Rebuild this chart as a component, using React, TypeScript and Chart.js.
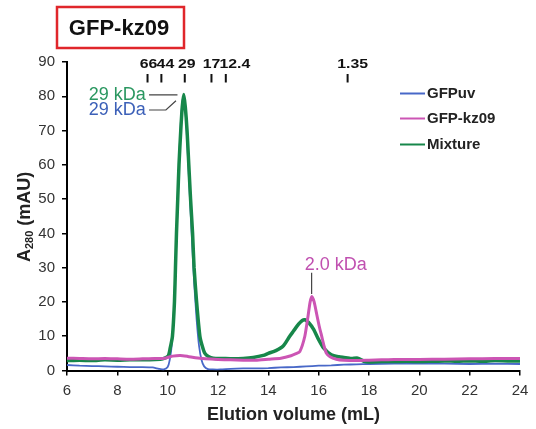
import React, { useEffect, useRef } from "react";
import { Chart, registerables } from "chart.js";

Chart.register(...registerables);

const FONT = "'Liberation Sans', Arial, Helvetica, sans-serif";

// Elution volume (mL) / A280 (mAU)
const uvX = [6, 6.5, 7, 7.5, 8, 8.5, 9, 9.4, 9.65, 9.85, 10.0, 10.08, 10.17, 10.25, 10.31, 10.38, 10.45, 10.52, 10.6, 10.66, 10.74, 10.82, 10.9, 10.98, 11.05, 11.15, 11.25, 11.35, 11.45, 11.6, 11.8, 12.1, 12.5, 13, 13.5, 14, 14.5, 15, 15.5, 16, 16.5, 17, 17.5, 18, 19, 20, 21, 22, 23, 24];
const uvY = [1.6, 1.4, 1.3, 1.2, 1.1, 1.0, 1.0, 0.9, 0.5, 0.3, 1.0, 3, 8, 18, 30, 45, 60, 72, 79, 79.5, 72, 60, 48, 36, 26, 15, 7, 3, 1.2, 0.4, 0.3, 0.3, 0.5, 0.6, 0.6, 0.7, 0.9, 1.0, 1.2, 1.4, 1.5, 1.7, 1.8, 1.9, 2.0, 2.0, 2.0, 1.9, 2.0, 1.9];

const kzX = [6, 6.5, 7, 7.5, 8, 8.5, 9, 9.5, 9.9, 10.2, 10.5, 10.8, 11.1, 11.5, 12, 12.5, 13, 13.5, 14, 14.5, 14.9, 15.1, 15.25, 15.45, 15.58, 15.66, 15.73, 15.82, 15.92, 16.02, 16.12, 16.22, 16.31, 16.45, 16.7, 17, 17.5, 18, 18.5, 19, 20, 21, 22, 23, 24];
const kzY = [3.6, 3.5, 3.4, 3.5, 3.4, 3.3, 3.4, 3.5, 3.6, 4.2, 4.4, 4.1, 3.7, 3.4, 3.2, 3.1, 3.0, 3.0, 3.3, 3.6, 4.3, 4.9, 5.5, 10, 16, 20, 21.6, 20, 16.5, 13, 10, 7, 5, 4, 3.3, 3.0, 2.9, 3.0, 3.1, 3.2, 3.2, 3.3, 3.4, 3.5, 3.5];

const mixX = [6, 6.5, 7, 7.5, 8, 8.5, 9, 9.5, 9.8, 10.02, 10.1, 10.19, 10.27, 10.31, 10.35, 10.40, 10.45, 10.52, 10.58, 10.64, 10.70, 10.77, 10.84, 10.91, 10.99, 11.05, 11.15, 11.28, 11.38, 11.48, 11.62, 11.81, 12.2, 12.6, 13.0, 13.4, 13.8, 14.0, 14.3, 14.6, 14.85, 15.0, 15.2, 15.35, 15.45, 15.6, 15.8, 16.0, 16.2, 16.5, 16.8, 17.0, 17.3, 17.55, 17.8, 18.0, 18.5, 19, 19.5, 20, 20.5, 21, 21.5, 22, 22.5, 23, 23.5, 24];
const mixY = [2.9, 3.0, 2.9, 3.1, 3.0, 3.1, 3.1, 3.2, 3.4, 4.2, 6.5, 10, 20, 30, 40, 50, 60, 70, 77, 80.5, 77, 70, 60, 50, 40, 30, 20, 10, 7, 5, 4.1, 3.6, 3.5, 3.4, 3.5, 3.8, 4.4, 5.0, 5.8, 7.2, 10, 11.5, 13.5, 14.6, 14.8, 14, 12, 9, 6.5, 4.6, 4.0, 3.8, 3.5, 3.6, 2.7, 2.5, 2.6, 2.6, 2.7, 2.6, 2.7, 2.8, 2.7, 2.8, 2.7, 2.9, 2.8, 2.8];

const seriesNames = ["GFPuv", "GFP-kz09", "Mixture"];
const seriesColors = ["#4868c8", "#cc55b4", "#17874a"];

const markerLabels = ["66", "44", "29", "17", "12.4", "1.35"];
const markerPos = [9.2, 9.75, 10.68, 11.74, 12.31, 17.15];

const chartTitle = "GFP-kz09";
const xTitle = "Elution volume (mL)";
const annoTexts = ["29 kDa", "29 kDa", "2.0 kDa"];

const toPts = (xs: number[], ys: number[]) => xs.map((x, i) => ({ x, y: ys[i] }));

const overlay = {
  id: "overlay",
  afterDraw(chart: any) {
    const ctx = chart.ctx as CanvasRenderingContext2D;
    const xs = chart.scales.x;
    const ys = chart.scales.y;
    const px = (v: number) => xs.getPixelForValue(v);
    const py = (v: number) => ys.getPixelForValue(v);
    ctx.save();

    // title box
    ctx.strokeStyle = "#e0262b";
    ctx.lineWidth = 2.5;
    ctx.strokeRect(57, 7, 127, 41);
    ctx.fillStyle = "#111";
    ctx.font = `bold 22px ${FONT}`;
    ctx.textAlign = "center";
    ctx.textBaseline = "middle";
    ctx.fillText(chartTitle, 119, 28.5);

    // size markers
    const labelDx = [1, 4, 2, 0, 9, 5];
    ctx.font = `bold 12px ${FONT}`;
    ctx.fillStyle = "#111";
    ctx.strokeStyle = "#111";
    ctx.lineWidth = 2;
    markerPos.forEach((m, i) => {
      const x = px(m);
      ctx.save();
      ctx.translate(x + labelDx[i], 64.5);
      ctx.scale(1.32, 1);
      ctx.fillText(markerLabels[i], 0, 0);
      ctx.restore();
      ctx.beginPath();
      ctx.moveTo(x, 74);
      ctx.lineTo(x, 82.5);
      ctx.stroke();
    });

    // annotations
    ctx.font = `18px ${FONT}`;
    ctx.textAlign = "right";
    ctx.fillStyle = "#2a9760";
    ctx.fillText(annoTexts[0], px(9.13), py(80.4));
    ctx.fillStyle = "#3c60b8";
    ctx.fillText(annoTexts[1], px(9.13), py(76));
    ctx.strokeStyle = "#444";
    ctx.lineWidth = 1.2;
    ctx.beginPath();
    ctx.moveTo(px(9.26), py(80.4));
    ctx.lineTo(px(10.39), py(80.4));
    ctx.moveTo(px(9.26), py(76));
    ctx.lineTo(px(9.93), py(76));
    ctx.lineTo(px(10.33), py(78.7));
    ctx.stroke();
    ctx.textAlign = "left";
    ctx.fillStyle = "#c050b0";
    ctx.fillText(annoTexts[2], px(15.45), py(30.9));
    ctx.beginPath();
    ctx.moveTo(px(15.72), py(28.5));
    ctx.lineTo(px(15.72), py(22.3));
    ctx.stroke();

    // legend
    const ly = [93.5, 118.5, 144.5];
    ctx.font = `bold 15px ${FONT}`;
    ctx.textBaseline = "middle";
    seriesNames.forEach((n, i) => {
      ctx.strokeStyle = seriesColors[i];
      ctx.lineWidth = 2;
      ctx.beginPath();
      ctx.moveTo(400, ly[i]);
      ctx.lineTo(425, ly[i]);
      ctx.stroke();
      ctx.fillStyle = "#222";
      ctx.fillText(n, 427, ly[i]);
    });

    // y-axis title with subscript
    ctx.translate(29.5, 262);
    ctx.rotate(-Math.PI / 2);
    ctx.textAlign = "left";
    ctx.textBaseline = "alphabetic";
    ctx.fillStyle = "#222";
    ctx.font = `bold 18px ${FONT}`;
    ctx.fillText("A", 0, 0);
    let w = ctx.measureText("A").width;
    ctx.font = `bold 11px ${FONT}`;
    ctx.fillText("280", w, 3);
    w += ctx.measureText("280").width;
    ctx.font = `bold 18px ${FONT}`;
    ctx.fillText(" (mAU)", w, 0);
    ctx.restore();
  },
};

export default function App() {
  const ref = useRef<HTMLCanvasElement | null>(null);
  useEffect(() => {
    if (!ref.current) return;
    const chart = new Chart(ref.current, {
      type: "line",
      data: {
        datasets: [
          { label: seriesNames[1], data: toPts(kzX, kzY), borderColor: seriesColors[1], borderWidth: 3, pointRadius: 0, order: 0, tension: 0.2 },
          { label: seriesNames[2], data: toPts(mixX, mixY), borderColor: seriesColors[2], borderWidth: 3.5, pointRadius: 0, order: 1, tension: 0.2 },
          { label: seriesNames[0], data: toPts(uvX, uvY), borderColor: seriesColors[0], borderWidth: 1.8, pointRadius: 0, order: 2, tension: 0.2 },
        ],
      },
      options: {
        responsive: false,
        animation: false,
        layout: { padding: { top: 62, right: 16, left: 0, bottom: 0 } },
        plugins: { legend: { display: false }, tooltip: { enabled: false }, title: { display: false } },
        scales: {
          x: {
            type: "linear",
            min: 6,
            max: 24,
            afterFit: (s: any) => { s.height = 58.5; },
            ticks: { stepSize: 2, color: "#333", font: { family: FONT, size: 15 }, padding: 6, maxRotation: 0 },
            grid: { drawOnChartArea: false, tickLength: 5, color: "#000", lineWidth: 1.5 },
            border: { display: true, color: "#000", width: 2 },
            title: { display: true, text: xTitle, color: "#222", font: { family: FONT, size: 18, weight: "bold" }, padding: { top: 0, bottom: 3 } },
          },
          y: {
            min: 0,
            max: 90,
            afterFit: (s: any) => { s.width = 67; },
            ticks: { stepSize: 10, color: "#333", font: { family: FONT, size: 15 }, padding: 7 },
            grid: { drawOnChartArea: false, tickLength: 5, color: "#000", lineWidth: 1.5 },
            border: { display: true, color: "#000", width: 2 },
          },
        },
      },
      plugins: [overlay],
    } as any);
    return () => chart.destroy();
  }, []);
  return (
    <div style={{ position: "fixed", left: 0, top: 0, width: 536, height: 429, background: "#fff" }}>
      <canvas ref={ref} width={536} height={429} style={{ display: "block" }} />
    </div>
  );
}
